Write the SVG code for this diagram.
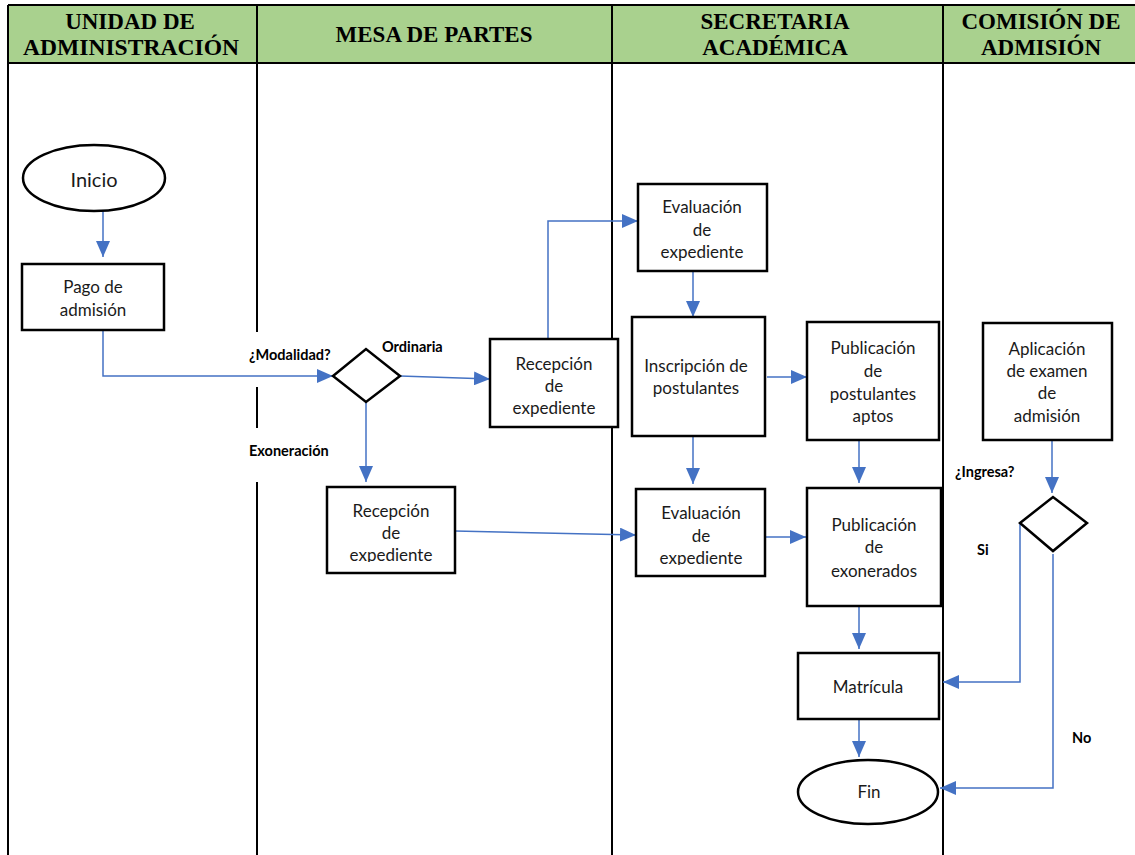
<svg xmlns="http://www.w3.org/2000/svg" width="1135" height="855" viewBox="0 0 1135 855">
  <style>
    .hdr { font-family: "Liberation Serif", "Times New Roman", serif; font-weight: bold; font-size: 23px; fill: #000; text-anchor: middle; }
    .lane { stroke: #000; stroke-width: 2; fill: none; }
    .box { fill: #fff; stroke: #000; stroke-width: 2.5; }
    .txt { font-family: Lato, "Noto Sans", sans-serif; font-size: 17px; fill: #1a1a1a; text-anchor: middle; }
    .big { font-size: 20px; }
    .lbl { font-family: Lato, "Noto Sans", sans-serif; font-weight: bold; font-size: 14.5px; fill: #000; }
    .conn { stroke: #4472C4; stroke-width: 1.5; fill: none; marker-end: url(#arr); }
  </style>
  <defs>
    <marker id="arr" markerUnits="userSpaceOnUse" markerWidth="16" markerHeight="14" refX="16" refY="7" orient="auto">
      <path d="M0,0 L16,7 L0,14 z" fill="#4472C4"/>
    </marker>
    <clipPath id="clipRecep2"><rect x="327" y="487" width="128" height="75"/></clipPath>
    <clipPath id="clipEval2"><rect x="636" y="489" width="129" height="76"/></clipPath>
  </defs>

  <rect width="1135" height="855" fill="#fff"/>

  <!-- swimlane header -->
  <g id="header">
    <rect x="8" y="5" width="1130" height="58" fill="#A9D18E"/>
    <line class="lane" x1="8" y1="5" x2="1135" y2="5"/>
    <line class="lane" x1="8" y1="63" x2="1135" y2="63"/>
    <text class="hdr" x="130" y="29">UNIDAD DE</text>
    <text class="hdr" x="131" y="55" textLength="216" lengthAdjust="spacingAndGlyphs">ADMINISTRACIÓN</text>
    <text class="hdr" x="434" y="42">MESA DE PARTES</text>
    <text class="hdr" x="775" y="29">SECRETARIA</text>
    <text class="hdr" x="775" y="55">ACADÉMICA</text>
    <text class="hdr" x="1041" y="29">COMISIÓN DE</text>
    <text class="hdr" x="1041" y="55">ADMISIÓN</text>
  </g>

  <!-- lane dividers -->
  <g id="lanes">
    <line class="lane" x1="8" y1="5" x2="8" y2="855"/>
    <line class="lane" x1="257" y1="5" x2="257" y2="332"/>
    <line class="lane" x1="257" y1="387" x2="257" y2="428"/>
    <line class="lane" x1="257" y1="482" x2="257" y2="855"/>
    <line class="lane" x1="612" y1="5" x2="612" y2="855"/>
    <line class="lane" x1="943" y1="5" x2="943" y2="855"/>
  </g>

  <!-- connectors -->
  <g id="connectors">
    <path class="conn" d="M103,211 V257"/>
    <path class="conn" d="M103,330 V376 H333"/>
    <path class="conn" d="M400,376 L490,379"/>
    <path class="conn" d="M548,339 V221 H638"/>
    <path class="conn" d="M366,402 V482"/>
    <path class="conn" d="M455,531 L636,535"/>
    <path class="conn" d="M693,271 V317"/>
    <path class="conn" d="M767,377 H807"/>
    <path class="conn" d="M693,436 V484"/>
    <path class="conn" d="M765,537 H806"/>
    <path class="conn" d="M859,440 V483"/>
    <path class="conn" d="M859,606 V649"/>
    <path class="conn" d="M859,719 V757"/>
    <path class="conn" d="M1052,440 V493"/>
    <path class="conn" d="M1020,523 V682 H943"/>
    <path class="conn" d="M1053,554 V788 H940"/>
  </g>

  <!-- edge labels -->
  <g id="labels">
    <text class="lbl" x="249" y="360">¿Modalidad?</text>
    <text class="lbl" x="382" y="352">Ordinaria</text>
    <text class="lbl" x="249" y="456">Exoneración</text>
    <text class="lbl" x="955" y="477">¿Ingresa?</text>
    <text class="lbl" x="977" y="555">Si</text>
    <text class="lbl" x="1072" y="743">No</text>
  </g>

  <g id="inicio">
    <ellipse class="box" cx="94" cy="178" rx="71" ry="33"/>
    <text class="txt big" x="94" y="187">Inicio</text>
  </g>

  <g id="pago">
    <rect class="box" x="22" y="264" width="142" height="66"/>
    <text class="txt" x="93" y="293">Pago de</text>
    <text class="txt" x="93" y="316">admisión</text>
  </g>

  <g id="modalidad">
    <polygon class="box" points="333,376 366,349 400,376 366,402"/>
  </g>

  <g id="recepcion-ordinaria">
    <rect class="box" x="490" y="339" width="128" height="88"/>
    <text class="txt" x="554" y="370">Recepción</text>
    <text class="txt" x="554" y="392">de</text>
    <text class="txt" x="554" y="414">expediente</text>
  </g>

  <g id="recepcion-exoneracion">
    <rect class="box" x="327" y="487" width="128" height="86"/>
    <g clip-path="url(#clipRecep2)">
      <text class="txt" x="391" y="517">Recepción</text>
      <text class="txt" x="391" y="539">de</text>
      <text class="txt" x="391" y="561">expediente</text>
    </g>
  </g>

  <g id="evaluacion-ordinaria">
    <rect class="box" x="638" y="184" width="129" height="87"/>
    <text class="txt" x="702" y="213">Evaluación</text>
    <text class="txt" x="702" y="236">de</text>
    <text class="txt" x="702" y="258">expediente</text>
  </g>

  <g id="inscripcion">
    <rect class="box" x="632" y="317" width="133" height="119"/>
    <text class="txt" x="696" y="372">Inscripción de</text>
    <text class="txt" x="696" y="394">postulantes</text>
  </g>

  <g id="publicacion-aptos">
    <rect class="box" x="807" y="322" width="132" height="118"/>
    <text class="txt" x="873" y="354">Publicación</text>
    <text class="txt" x="873" y="377">de</text>
    <text class="txt" x="873" y="400">postulantes</text>
    <text class="txt" x="873" y="422">aptos</text>
  </g>

  <g id="evaluacion-exoneracion">
    <rect class="box" x="636" y="489" width="129" height="87"/>
    <g clip-path="url(#clipEval2)">
      <text class="txt" x="701" y="519">Evaluación</text>
      <text class="txt" x="701" y="542">de</text>
      <text class="txt" x="701" y="564">expediente</text>
    </g>
  </g>

  <g id="publicacion-exonerados">
    <rect class="box" x="807" y="488" width="134" height="118"/>
    <text class="txt" x="874" y="531">Publicación</text>
    <text class="txt" x="874" y="553">de</text>
    <text class="txt" x="874" y="577">exonerados</text>
  </g>

  <g id="matricula">
    <rect class="box" x="798" y="653" width="141" height="66"/>
    <text class="txt" x="868" y="693">Matrícula</text>
  </g>

  <g id="fin">
    <ellipse class="box" cx="868" cy="792" rx="70" ry="32"/>
    <text class="txt" x="869" y="798">Fin</text>
  </g>

  <g id="aplicacion">
    <rect class="box" x="983" y="323" width="129" height="117"/>
    <text class="txt" x="1047" y="355">Aplicación</text>
    <text class="txt" x="1047" y="377">de examen</text>
    <text class="txt" x="1047" y="399">de</text>
    <text class="txt" x="1047" y="422">admisión</text>
  </g>

  <g id="ingresa">
    <polygon class="box" points="1020,523 1053,497 1087,523 1053,551"/>
  </g>
</svg>
